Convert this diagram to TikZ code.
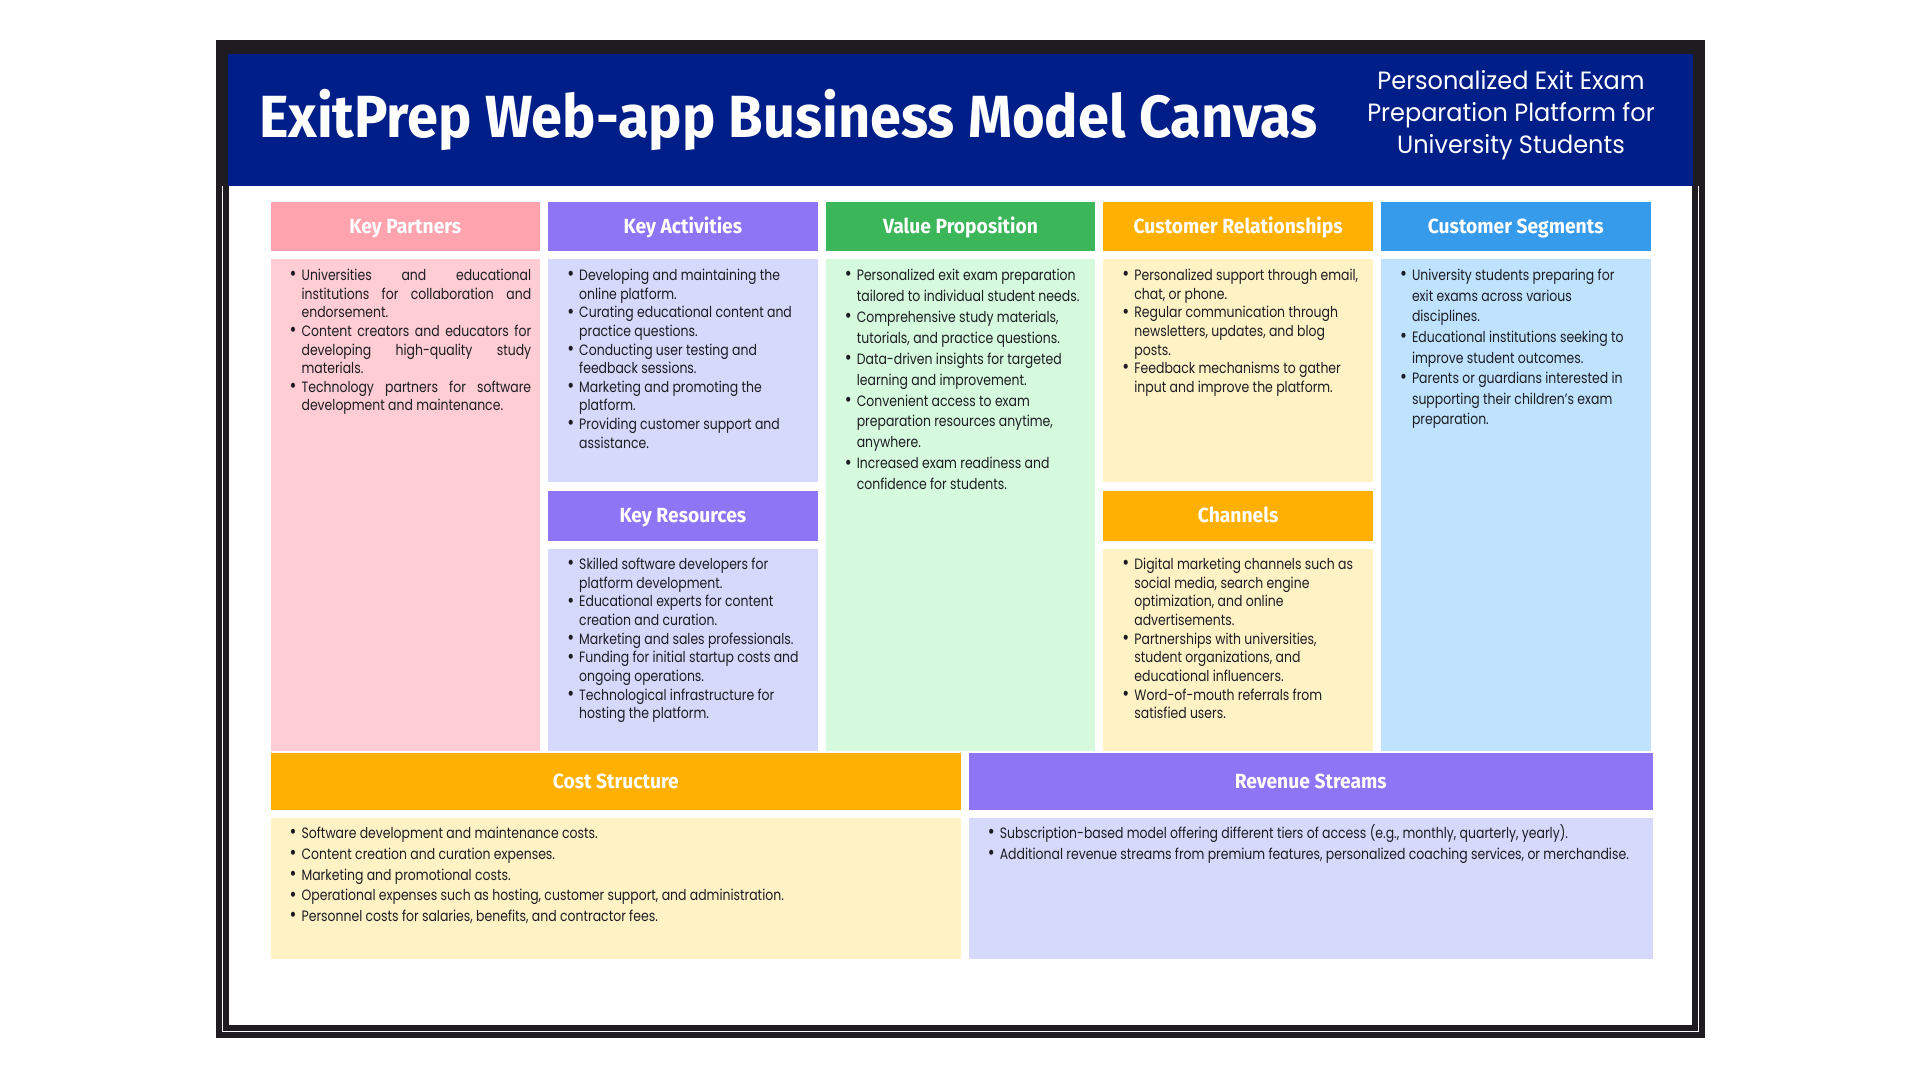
\documentclass[tikz,border=0pt]{standalone}
\usepackage{fontspec}
\setmainfont{Poppins}
\newfontfamily\headfont[FakeStretch=0.94]{Fira Sans}
\newfontfamily\bodyfont[FakeStretch=0.83]{Poppins}
\newfontfamily\subfont[FakeStretch=0.96]{Poppins}

\definecolor{frame}{HTML}{1E1C21}
\definecolor{navy}{HTML}{001E87}
\definecolor{ink}{HTML}{1C1C22}
\definecolor{pinkH}{HTML}{FFA3AF}
\definecolor{pinkB}{HTML}{FFCDD3}
\definecolor{purpH}{HTML}{8D75F5}
\definecolor{purpB}{HTML}{D6D9FC}
\definecolor{greenH}{HTML}{3BB659}
\definecolor{greenB}{HTML}{D5FADD}
\definecolor{orngH}{HTML}{FFB000}
\definecolor{orngB}{HTML}{FFF3C6}
\definecolor{blueH}{HTML}{379BEB}
\definecolor{blueB}{HTML}{BFE3FF}

% bullet hanging to the left of the text column
\newcommand\bl{\leavevmode\llap{\raisebox{-0.3pt}{\scalebox{1.35}{\textbullet}}\hspace{5pt}}}
% justified line of fixed width
\newcommand\jl[1]{\makebox[229.6pt][s]{#1}}
% body text block: width, leading, lines
\newcommand\bodytext[3]{\parbox[t]{#1}{\raggedright\bodyfont\fontsize{15}{#2}\selectfont#3}}

\tikzset{
  panel/.style={anchor=north west, inner sep=0pt, outer sep=0pt, draw=none},
  head/.style={panel, text=white, font=\headfont\bfseries\fontsize{20.5}{22}\selectfont,
    text height=14.1pt, text depth=0pt, align=center},
  txt/.style={anchor=base west, inner sep=0pt, outer sep=0pt, text=ink},
}

\begin{document}
\begin{tikzpicture}[x=1pt,y=-1pt]
\useasboundingbox (0,0) rectangle (1920,1080);
\fill[white] (0,0) rectangle (1920,1080);

% double frame and title band
\fill[frame] (216,40) rectangle (1705,1038);
\fill[white] (229,186) rectangle (1692,1024.5);
\draw[white, line width=1.3pt] (222.6,186) -- (222.6,1031.4) -- (1698.4,1031.4) -- (1698.4,186);
\fill[navy] (228,53.5) rectangle (1693,186);

\node[txt, text=white, font=\headfont\bfseries\fontsize{59.5}{60}\selectfont] (title) at (259,137.5)
  {ExitPrep Web-app Business Model Canvas};
\node[anchor=base, inner sep=0pt, text=white] (subtitle) at (1511,89.3)
  {\parbox[t]{420pt}{\centering\subfont\fontsize{25}{32}\selectfont
   Personalized Exit Exam\\Preparation Platform for\\University Students}};

% column headers
\node[head, fill=pinkH,  minimum width=269.5pt, minimum height=49pt] (kph) at (270.6,202) {Key Partners};
\node[head, fill=purpH,  minimum width=269.5pt, minimum height=49pt] (kah) at (548.2,202) {Key Activities};
\node[head, fill=greenH, minimum width=269.5pt, minimum height=49pt] (vph) at (825.8,202) {Value Proposition};
\node[head, fill=orngH,  minimum width=269.5pt, minimum height=49pt] (crh) at (1103.4,202) {Customer Relationships};
\node[head, fill=blueH,  minimum width=269.5pt, minimum height=49pt] (csh) at (1381,202) {Customer Segments};

% body panels
\node[panel, fill=pinkB,  minimum width=269.5pt, minimum height=491.7pt] (kpb) at (270.6,259.3) {};
\node[panel, fill=purpB,  minimum width=269.5pt, minimum height=222.7pt] (kab) at (548.2,259.3) {};
\node[panel, fill=greenB, minimum width=269.5pt, minimum height=491.7pt] (vpb) at (825.8,259.3) {};
\node[panel, fill=orngB,  minimum width=269.5pt, minimum height=222.7pt] (crb) at (1103.4,259.3) {};
\node[panel, fill=blueB,  minimum width=269.5pt, minimum height=491.7pt] (csb) at (1381,259.3) {};

\node[head, fill=purpH, minimum width=269.5pt, minimum height=49.7pt] (krh) at (548.2,491) {Key Resources};
\node[head, fill=orngH, minimum width=269.5pt, minimum height=49.7pt] (chh) at (1103.4,491) {Channels};
\node[panel, fill=purpB, minimum width=269.5pt, minimum height=202pt] (krb) at (548.2,549) {};
\node[panel, fill=orngB, minimum width=269.5pt, minimum height=202pt] (chb) at (1103.4,549) {};

\node[head, fill=orngH, minimum width=690.6pt, minimum height=57.5pt] (csth) at (270.6,752.5) {Cost Structure};
\node[head, fill=purpH, minimum width=684.5pt, minimum height=57.5pt] (rvh) at (968.5,752.5) {Revenue Streams};
\node[panel, fill=orngB, minimum width=690.6pt, minimum height=141.5pt] (cstb) at (270.6,817.5) {};
\node[panel, fill=purpB, minimum width=684.5pt, minimum height=141.5pt] (rvb) at (968.5,817.5) {};

% body texts
\node[txt] (kpt) at (301.6,280.6) {\bodytext{236pt}{18.6pt}{%
  \bl\jl{Universities and educational}\\
  \jl{institutions for collaboration and}\\
  endorsement.\\
  \bl\jl{Content creators and educators for}\\
  \jl{developing high-quality study}\\
  materials.\\
  \bl\jl{Technology partners for software}\\
  development and maintenance.}};

\node[txt] (kat) at (579.2,280.6) {\bodytext{236pt}{18.6pt}{%
  \bl Developing and maintaining the\\
  online platform.\\
  \bl Curating educational content and\\
  practice questions.\\
  \bl Conducting user testing and\\
  feedback sessions.\\
  \bl Marketing and promoting the\\
  platform.\\
  \bl Providing customer support and\\
  assistance.}};

\node[txt] (vpt) at (856.8,280.6) {\bodytext{236pt}{20.9pt}{%
  \bl Personalized exit exam preparation\\
  tailored to individual student needs.\\
  \bl Comprehensive study materials,\\
  tutorials, and practice questions.\\
  \bl Data-driven insights for targeted\\
  learning and improvement.\\
  \bl Convenient access to exam\\
  preparation resources anytime,\\
  anywhere.\\
  \bl Increased exam readiness and\\
  confidence for students.}};

\node[txt] (crt) at (1134.4,280.6) {\bodytext{236pt}{18.6pt}{%
  \bl Personalized support through email,\\
  chat, or phone.\\
  \bl Regular communication through\\
  newsletters, updates, and blog\\
  posts.\\
  \bl Feedback mechanisms to gather\\
  input and improve the platform.}};

\node[txt] (cst) at (1412,280.6) {\bodytext{236pt}{20.6pt}{%
  \bl University students preparing for\\
  exit exams across various\\
  disciplines.\\
  \bl Educational institutions seeking to\\
  improve student outcomes.\\
  \bl Parents or guardians interested in\\
  supporting their children’s exam\\
  preparation.}};

\node[txt] (krt) at (579.2,569.3) {\bodytext{236pt}{18.7pt}{%
  \bl Skilled software developers for\\
  platform development.\\
  \bl Educational experts for content\\
  creation and curation.\\
  \bl Marketing and sales professionals.\\
  \bl Funding for initial startup costs and\\
  ongoing operations.\\
  \bl Technological infrastructure for\\
  hosting the platform.}};

\node[txt] (cht) at (1134.4,569.3) {\bodytext{236pt}{18.7pt}{%
  \bl Digital marketing channels such as\\
  social media, search engine\\
  optimization, and online\\
  advertisements.\\
  \bl Partnerships with universities,\\
  student organizations, and\\
  educational influencers.\\
  \bl Word-of-mouth referrals from\\
  satisfied users.}};

\node[txt] (cstt) at (301.6,838.4) {\bodytext{640pt}{20.8pt}{%
  \bl Software development and maintenance costs.\\
  \bl Content creation and curation expenses.\\
  \bl Marketing and promotional costs.\\
  \bl Operational expenses such as hosting, customer support, and administration.\\
  \bl Personnel costs for salaries, benefits, and contractor fees.}};

\node[txt] (rvt) at (999.8,838.4) {\bodytext{640pt}{20.8pt}{%
  \bl Subscription-based model offering different tiers of access (e.g., monthly, quarterly, yearly).\\
  \bl Additional revenue streams from premium features, personalized coaching services, or merchandise.}};
\end{tikzpicture}
\end{document}
